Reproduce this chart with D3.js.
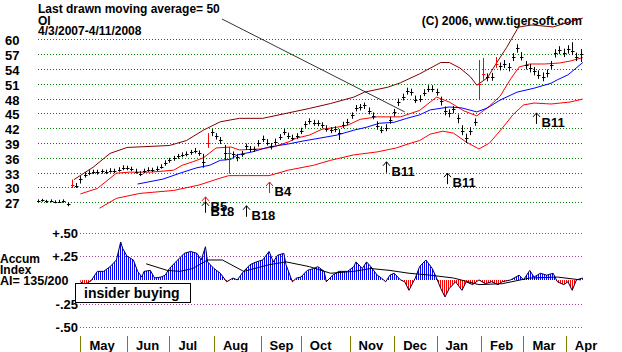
<!DOCTYPE html>
<html>
<head>
<meta charset="utf-8">
<script src="https://cdn.jsdelivr.net/npm/d3@7/dist/d3.min.js"></script>
<style>
body { margin: 0; background: #fff; }
text { font-family: "Liberation Sans", Arial, sans-serif; font-weight: bold; fill: #000; }
</style>
</head>
<body>
<div id="chart"></div>
<script>
// daily bars, one every 2 trading days (day = 2 * index)
const closes = [27.3,27.4,27.2,27.3,27.0,27.1,27.3,26.6,30.5,30.4,
  31.8,32.6,33.0,33.2,33.1,33.3,33.2,33.4,33.3,33.6,
  34.0,34.0,33.8,33.2,32.7,33.4,33.6,33.5,33.8,34.2,
  35.0,35.5,35.9,36.3,36.6,36.8,37.1,37.4,37.0,35.2,
  39.0,41.2,40.4,39.6,37.0,37.0,36.7,36.1,36.8,38.3,
  37.8,37.8,39.0,39.9,39.1,38.3,39.3,40.2,41.3,40.4,
  40.1,40.4,41.5,42.8,43.4,43.1,43.0,42.6,41.9,41.6,
  41.8,41.0,42.7,43.3,44.6,46.1,46.3,46.6,45.5,44.5,
  42.4,41.7,42.1,43.6,45.2,47.3,48.3,49.5,49.3,47.8,
  48.0,49.2,50.0,50.0,49.3,47.5,45.4,45.0,45.8,44.0,
  41.5,40.0,41.4,43.3,51.0,53.0,52.3,52.4,55.0,54.5,
  55.0,54.4,56.4,58.2,56.5,54.7,54.2,53.5,52.8,52.4,
  53.1,54.8,57.2,57.8,57.3,58.0,57.6,56.4,57.0];
const highs = [27.6,27.7,27.5,27.6,27.4,27.5,27.6,27.0,31.6,30.9,
  32.3,33.1,33.5,33.6,33.6,33.7,33.6,33.9,33.8,34.1,
  34.5,34.4,34.2,33.8,33.3,33.8,34.1,34.0,34.3,34.7,
  35.5,36.0,36.4,36.8,37.1,37.3,37.6,38.0,37.5,36.8,
  41.0,41.8,41.0,40.2,38.6,38.2,37.3,36.8,37.4,38.9,
  38.4,38.3,39.6,40.5,39.8,39.0,39.9,40.8,41.9,41.1,
  40.7,41.0,42.1,43.4,44.0,43.7,43.6,43.2,42.6,42.2,
  42.4,41.8,43.3,43.9,45.2,46.7,46.9,47.2,46.2,45.2,
  43.4,42.4,42.8,44.3,45.9,48.0,49.0,50.2,50.0,48.6,
  48.7,49.9,50.7,50.7,50.0,48.4,46.4,45.8,46.5,44.8,
  42.6,40.9,42.2,44.0,55.8,56.2,53.1,53.2,56.4,55.3,
  55.8,55.2,57.2,59.0,57.4,55.6,55.0,54.4,53.7,53.3,
  53.9,55.6,58.0,58.6,58.1,58.8,59.4,57.3,58.0];
const lows = [27.0,27.1,26.9,27.0,26.8,26.9,26.9,26.2,29.9,29.9,
  30.8,32.0,32.5,32.7,32.6,32.8,32.7,33.0,32.9,33.2,
  33.5,33.5,33.3,32.8,32.3,32.9,33.2,33.1,33.3,33.8,
  34.4,35.0,35.4,35.8,36.1,36.3,36.6,36.9,36.4,34.0,
  38.0,40.4,39.7,38.8,35.5,32.8,36.1,35.3,36.2,37.6,
  37.2,37.2,38.3,39.2,38.5,37.7,38.6,39.6,40.6,39.8,
  39.5,39.8,40.8,42.1,42.8,42.5,42.4,42.0,41.3,41.0,
  41.2,39.6,42.0,42.6,43.9,45.4,45.6,45.9,44.8,43.8,
  41.7,41.0,41.4,42.9,44.4,46.5,47.6,48.8,48.6,47.1,
  47.3,48.5,49.3,49.3,48.6,46.6,44.6,44.2,45.0,43.0,
  40.6,39.0,40.6,42.5,47.7,51.8,51.5,51.6,54.2,53.7,
  54.2,53.5,55.6,57.3,55.7,53.9,53.3,52.7,52.0,51.5,
  52.3,54.0,56.3,57.0,56.4,57.1,56.8,55.6,55.4];
const redBars = [8, 40, 45, 104, 105, 108];

// bands and moving averages: [trading day, price]
const upperBand = [[17,31.6],[26,34.1],[34,36.9],[42,38.1],[62,38.5],[70,39.5],[78,41.6],[86,43.3],
  [95,44.0],[106,44.0],[117,45.0],[128,46.0],[138,47.0],[149,48.3],[154,49.3],[165,50.3],[171,51.2],
  [180,53.0],[190,55.3],[194,55.3],[199,54.2],[204,52.4],[207,50.7],[212,52.2],[216,55.0],[221,58.3],
  [226,62.0],[227,62.5],[233,62.9],[243,62.5],[249,63.3],[257,64.3]];
const midLine = [[20,28.7],[28,29.8],[37,32.9],[43,33.1],[53,33.1],[64,33.5],[68,34.5],[73,35.2],
  [78,36.0],[84,38.0],[91,38.2],[95,37.6],[105,37.8],[111,38.2],[118,39.2],[122,40.0],[128,40.6],
  [134,41.8],[141,42.2],[146,42.6],[152,43.8],[160,44.3],[171,44.3],[180,45.6],[188,48.3],[194,47.3],
  [201,45.5],[207,44.5],[213,46.5],[218,48.5],[223,52.0],[227,54.4],[232,55.0],[239,55.0],[246,55.2],
  [251,55.6],[257,56.3]];
const lowerBand = [[29,25.8],[37,27.8],[48,28.8],[64,29.4],[76,30.5],[86,31.9],[90,32.4],[109,32.4],
  [118,33.5],[130,34.5],[138,35.5],[149,36.6],[160,37.2],[169,38.0],[176,39.0],[180,39.5],[185,40.8],
  [191,41.4],[196,41.0],[202,39.2],[208,37.8],[213,39.0],[219,42.0],[224,44.7],[229,46.7],[234,47.1],
  [242,46.9],[251,47.3],[257,47.9]];
const ma50 = [[47,30.7],[59,31.7],[67,32.9],[75,34.0],[81,34.5],[86,35.5],[91,35.7],[94,36.6],
  [101,37.2],[109,38.2],[118,38.8],[125,39.4],[133,40.0],[141,40.6],[149,41.6],[155,42.2],[161,43.0],
  [168,43.2],[174,44.0],[180,44.7],[185,45.7],[194,46.3],[200,46.1],[207,45.3],[212,46.1],[218,47.7],
  [226,49.3],[234,50.1],[242,51.1],[245,51.8],[250,52.8],[257,55.3]];

// accumulation index: [trading day, value]
const accum = [[20,-0.02],[22,-0.05],[25,-0.01],[28,0.09],[31,0.09],[34,0.14],[37,0.21],[39,0.40],
  [40,0.33],[42,0.25],[45,0.21],[47,0.09],[49,0.03],[50,0.09],[53,0.10],[55,0.02],[58,0.03],[60,0.05],
  [62,0.12],[65,0.19],[69,0.28],[72,0.30],[75,0.28],[77,0.21],[79,0.35],[80,0.19],[83,0.12],[86,0.07],
  [89,-0.02],[92,0.02],[94,0.00],[97,0.09],[100,0.16],[103,0.19],[106,0.21],[109,0.30],[111,0.19],
  [113,0.26],[116,0.28],[117,0.16],[120,-0.02],[122,0.02],[124,0.03],[127,0.10],[130,0.12],[132,0.14],
  [135,0.09],[136,-0.02],[139,0.05],[142,0.09],[146,0.09],[149,0.14],[150,0.19],[153,0.12],[155,0.19],
  [157,0.14],[160,0.05],[162,0.02],[164,-0.02],[166,0.05],[168,0.07],[171,0.00],[173,-0.02],[175,-0.11],
  [178,0.02],[180,0.14],[183,0.21],[186,0.12],[188,0.02],[190,-0.09],[192,-0.18],[194,-0.09],[197,-0.02],
  [200,-0.11],[202,-0.02],[205,-0.05],[208,0.00],[211,-0.04],[214,-0.02],[217,-0.05],[219,-0.02],
  [223,0.00],[227,0.05],[229,0.00],[232,0.10],[234,0.03],[237,0.07],[240,0.05],[243,0.07],[245,-0.02],
  [248,-0.05],[250,-0.02],[252,-0.11],[254,0.00],[257,0.02]];
const accumMA = [[51,0.17],[61,0.10],[67,0.09],[73,0.12],[80,0.21],[87,0.21],[97,0.09],[109,0.16],
  [117,0.19],[128,0.14],[138,0.07],[149,0.09],[157,0.12],[166,0.10],[175,0.07],[185,0.05],[196,0.02],
  [208,-0.05],[219,-0.04],[232,0.02],[245,0.03],[256,0.00]];

const priceTicks = [60,57,54,51,48,45,42,39,36,33,30,27];
const accumTicks = [0.5, 0.25, -0.25, -0.5];
const accumTickLabels = ["+.50", "+.25", "-.25", "-.50"];
const monthDays = [20,42,62,83,105,124,147,168,188,209,229,249];
const monthNames = ["May","Jun","Jul","Aug","Sep","Oct","Nov","Dec","Jan","Feb","Mar","Apr"];

const signalDays = [79, 79, 98, 109, 164, 193, 235];
const signalLevels = [28.1, 27.1, 26.3, 31.1, 35.2, 32.9, 45.1];
const signalLabels = ["B5", "B18", "B18", "B4", "B11", "B11", "B11"];
const signalRed = [true, false, false, true, false, false, false];

const calloutDay = 173, calloutPrice = 45.3;

const width = 622, height = 352;
const svg = d3.select("#chart").append("svg")
  .attr("width", width).attr("height", height)
  .attr("viewBox", [0, 0, width, height]);

const x = d3.scaleLinear().domain([0, 257]).range([38, 582.8]);
const y = d3.scaleLinear().domain([27, 60]).range([202.3, 39.3]);
const a = d3.scaleLinear().domain([-0.5, 0.5]).range([327.3, 232.5]);

// titles
svg.append("text").attr("x", 38).attr("y", 13).style("font-size", "12px")
  .text("Last drawn moving average= 50");
svg.append("text").attr("x", 38).attr("y", 25).style("font-size", "12px").text("OI");
svg.append("text").attr("x", 38).attr("y", 34.5).style("font-size", "12px").text("4/3/2007-4/11/2008");
svg.append("text").attr("x", 582).attr("y", 25).attr("text-anchor", "end").style("font-size", "12px")
  .text("(C) 2006, www.tigersoft.com");

// price grid + labels
const pg = svg.append("g");
pg.selectAll("line").data(priceTicks).join("line")
  .attr("x1", 38).attr("x2", 583)
  .attr("y1", d => Math.round(y(d)) + 0.5).attr("y2", d => Math.round(y(d)) + 0.5)
  .attr("stroke", "#008000").attr("stroke-dasharray", "1,2");
pg.selectAll("text").data(priceTicks).join("text")
  .attr("x", 5).attr("y", d => y(d) + 6).style("font-size", "13px").text(d => d);

// bands
const line = d3.line().x(d => x(d[0])).y(d => y(d[1]));
svg.append("path").datum(upperBand).attr("d", line).attr("fill", "none").attr("stroke", "#800000");
svg.append("path").datum(lowerBand).attr("d", line).attr("fill", "none").attr("stroke", "#ff0000");
svg.append("path").datum(midLine).attr("d", line).attr("fill", "none").attr("stroke", "#ff0000");
svg.append("path").datum(ma50).attr("d", line).attr("fill", "none").attr("stroke", "#0000ff");

// price bars
const bars = svg.append("g");
closes.forEach((c, i) => {
  const bx = Math.round(x(i * 2)) + 0.5;
  const col = redBars.includes(i) ? "#ff0000" : "#000";
  bars.append("line").attr("x1", bx).attr("x2", bx)
    .attr("y1", y(highs[i])).attr("y2", y(lows[i])).attr("stroke", col);
  bars.append("line").attr("x1", bx - 1.5).attr("x2", bx + 2)
    .attr("y1", Math.round(y(c)) + 0.5).attr("y2", Math.round(y(c)) + 0.5).attr("stroke", col);
});

// callout line
svg.append("line").attr("x1", 222).attr("y1", 19)
  .attr("x2", x(calloutDay)).attr("y2", y(calloutPrice))
  .attr("stroke", "#000").attr("stroke-width", 0.8);

// signals
signalDays.forEach((d, i) => {
  const sx = Math.round(x(d)) + 0.5, sy = y(signalLevels[i]);
  const col = signalRed[i] ? "#ff0000" : "#000";
  svg.append("path")
    .attr("d", `M${sx},${sy + 11}V${sy}M${sx - 3.5},${sy + 4}L${sx},${sy}L${sx + 3.5},${sy + 4}`)
    .attr("fill", "none").attr("stroke", col);
  svg.append("text").attr("x", sx + 5).attr("y", sy + 14).style("font-size", "13px")
    .text(signalLabels[i]);
});

// accumulation panel
const ag = svg.append("g");
ag.selectAll("line").data(accumTicks).join("line")
  .attr("x1", 80).attr("x2", 583)
  .attr("y1", d => Math.round(a(d)) + 0.5).attr("y2", d => Math.round(a(d)) + 0.5)
  .attr("stroke", "#a040a0").attr("stroke-dasharray", "1,2");
ag.selectAll("text").data(accumTicks).join("text")
  .attr("x", 78).attr("y", d => a(d) + 5).attr("text-anchor", "end")
  .style("font-size", "13px").text((d, i) => accumTickLabels[i]);

svg.append("text").attr("x", 0).attr("y", 263).style("font-size", "12px").text("Accum");
svg.append("text").attr("x", 0).attr("y", 273.5).style("font-size", "12px").text("Index");
svg.append("text").attr("x", 0).attr("y", 284.5).style("font-size", "12.5px").text("AI= 135/200");

const defs = svg.append("defs");
[["posStripe", "#0000ff"], ["negStripe", "#ff0000"]].forEach(([id, col]) => {
  const p = defs.append("pattern").attr("id", id).attr("patternUnits", "userSpaceOnUse")
    .attr("width", 2).attr("height", 4);
  p.append("rect").attr("width", 1).attr("height", 4).attr("fill", col);
});
const zero = a(0);
defs.append("clipPath").attr("id", "clipPos").append("rect")
  .attr("x", 0).attr("y", 220).attr("width", width).attr("height", zero - 220);
defs.append("clipPath").attr("id", "clipNeg").append("rect")
  .attr("x", 0).attr("y", zero).attr("width", width).attr("height", 340 - zero);

const area = d3.area().x(d => x(d[0])).y0(zero).y1(d => a(d[1]));
svg.append("path").datum(accum).attr("d", area).attr("fill", "url(#posStripe)").attr("clip-path", "url(#clipPos)");
svg.append("path").datum(accum).attr("d", area).attr("fill", "url(#negStripe)").attr("clip-path", "url(#clipNeg)");

const aline = d3.line().x(d => x(d[0])).y(d => a(d[1]));
svg.append("path").datum(accum).attr("d", aline).attr("fill", "none").attr("stroke", "#000040");
svg.append("path").datum(accumMA).attr("d", aline).attr("fill", "none").attr("stroke", "#000");

// insider buying box
svg.append("rect").attr("x", 75.5).attr("y", 283.5).attr("width", 115).attr("height", 19)
  .attr("fill", "#fff").attr("stroke", "#000");
svg.append("text").attr("x", 84).attr("y", 298).style("font-size", "14px").text("insider buying");

// month ticks
const mg = svg.append("g");
mg.selectAll("line").data(monthDays).join("line")
  .attr("x1", d => Math.round(x(d)) + 0.5).attr("x2", d => Math.round(x(d)) + 0.5)
  .attr("y1", 336).attr("y2", 352).attr("stroke", "#808000");
mg.selectAll("text").data(monthDays).join("text")
  .attr("x", d => x(d) + 9).attr("y", 350).style("font-size", "13px")
  .text((d, i) => monthNames[i]);
</script>
</body>
</html>
